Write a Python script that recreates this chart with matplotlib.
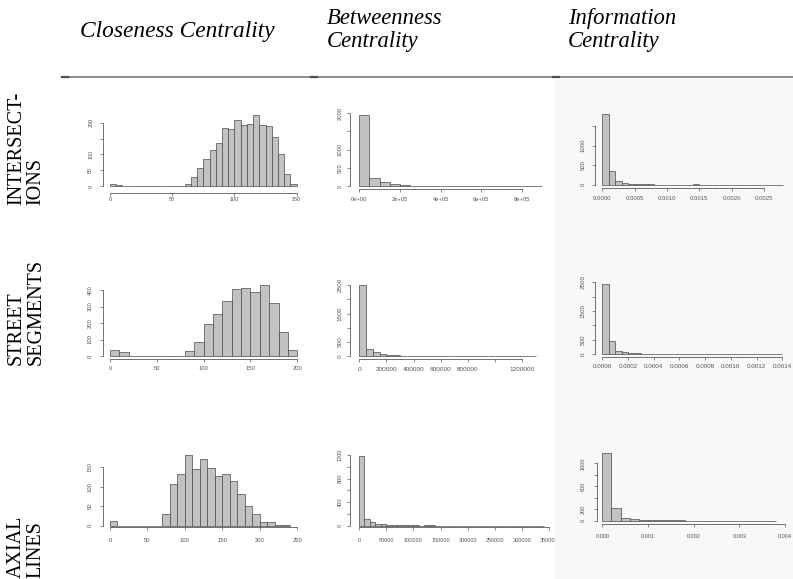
import numpy as np
import matplotlib.pyplot as plt
from matplotlib.patches import Rectangle
from matplotlib.lines import Line2D

W, H = 793, 579

# ---------------- histogram counts ----------------
# closeness centrality
close_int_start, close_int_w = 0, 5
close_int = [7, 3, 0, 0, 0, 0, 0, 0, 0, 0, 0, 0,
             7, 30, 56, 86, 114, 137, 184, 180, 210, 193, 195, 224, 193, 189, 154, 100, 38, 5]
close_seg_start, close_seg_w = 0, 10
close_seg = [34, 22, 0, 0, 0, 0, 0, 0, 28, 85, 192, 255, 331, 404, 410, 386, 430, 323, 143, 38]
close_ax_start, close_ax_w = 0, 10
close_ax = [11, 0, 0, 0, 0, 0, 0, 29, 106, 133, 182, 145, 172, 147, 128, 133, 115, 81, 51, 29, 9, 9, 3, 1]

# betweenness centrality
betw_int_start, betw_int_w = 0, 50000
betw_int = [1950, 210, 110, 60, 25, 8, 5, 4, 3, 3, 3, 2, 2, 1, 1, 2, 3, 1]
betw_seg_start, betw_seg_w = 0, 50000
betw_seg = [2500, 260, 140, 70, 30, 20, 15, 10, 8, 6, 5, 4, 3, 3, 2, 2, 1, 1, 2, 1, 1, 2, 1, 1, 1, 2]
betw_ax_start, betw_ax_w = 0, 10000
betw_ax = [1190, 120, 60, 32, 28, 12, 8, 6, 8, 5, 4, 3, 8, 4, 3, 3, 2, 2, 1, 1, 2, 1, 2, 1,
           1, 1, 1, 0, 0, 0, 0, 0, 1, 2]

# information centrality
info_int_start, info_int_w = 0, 0.0001
info_int = [1810, 340, 100, 35, 20, 10, 8, 6, 5, 5, 4, 2, 1, 2, 6, 1, 1, 0, 1, 0, 0, 1, 0, 0, 0, 0, 0, 1]
info_seg_start, info_seg_w = 0, 0.00005
info_seg = [2440, 450, 125, 70, 40, 30, 20, 15, 12, 10, 8, 10, 6, 4, 3, 2, 1, 6, 2, 3, 1, 1, 1, 1, 0, 0, 1, 1]
info_ax_start, info_ax_w = 0, 0.0002
info_ax = [1180, 216, 42, 30, 20, 8, 6, 5, 4, 3, 3, 2, 2, 2, 1, 1, 1, 1, 3]

# ---------------- axis ticks ----------------
close_int_xt = [0, 50, 100, 150]
close_int_yt, close_int_yl = [0, 50, 100, 150, 200], ['0', '50', '100', '', '200']
close_seg_xt = [0, 50, 100, 150, 200]
close_seg_yt, close_seg_yl = [0, 100, 200, 300, 400], ['0', '100', '200', '300', '400']
close_ax_xt = [0, 50, 100, 150, 200, 250]
close_ax_yt, close_ax_yl = [0, 50, 100, 150], ['0', '50', '100', '150']

betw_int_xt = [0, 200000, 400000, 600000, 800000]
betw_int_xl = ['0e+00', '2e+05', '4e+05', '6e+05', '8e+05']
betw_int_yt, betw_int_yl = [0, 500, 1000, 1500, 2000], ['0', '500', '1000', '', '2000']
betw_seg_xt = [0, 200000, 400000, 600000, 800000, 1000000, 1200000]
betw_seg_xl = ['0', '200000', '400000', '600000', '800000', '', '1200000']
betw_seg_yt = [0, 500, 1000, 1500, 2000, 2500]
betw_seg_yl = ['0', '500', '', '1500', '', '2500']
betw_ax_xt = [0, 50000, 100000, 150000, 200000, 250000, 300000, 350000]
betw_ax_xl = ['0', '50000', '100000', '150000', '200000', '250000', '300000', '350000']
betw_ax_yt = [0, 200, 400, 600, 800, 1000, 1200]
betw_ax_yl = ['0', '', '400', '', '800', '', '1200']

info_int_xt = [0, 0.0005, 0.0010, 0.0015, 0.0020, 0.0025]
info_int_xl = ['0.0000', '0.0005', '0.0010', '0.0015', '0.0020', '0.0025']
info_int_yt, info_int_yl = [0, 500, 1000, 1500], ['0', '500', '1000', '']
info_seg_xt = [0, 0.0002, 0.0004, 0.0006, 0.0008, 0.0010, 0.0012, 0.0014]
info_seg_xl = ['0.0000', '0.0002', '0.0004', '0.0006', '0.0008', '0.0010', '0.0012', '0.0014']
info_seg_yt = [0, 500, 1000, 1500, 2000, 2500]
info_seg_yl = ['0', '500', '', '1500', '', '2500']
info_ax_xt = [0, 0.001, 0.002, 0.003, 0.004]
info_ax_xl = ['0.000', '0.001', '0.002', '0.003', '0.004']
info_ax_yt = [0, 200, 400, 600, 800, 1000]
info_ax_yl = ['0', '200', '', '600', '', '1000']

col_titles = ['Closeness Centrality', 'Betweenness\nCentrality', 'Information\nCentrality']
row_titles = ['INTERSECT-\nIONS', 'STREET\nSEGMENTS', 'AXIAL\nLINES']

fig = plt.figure(figsize=(W / 100, H / 100), dpi=100)


def lin(v0, p0, v1, p1, p):
    return v0 + (p - p0) * (v1 - v0) / (p1 - p0)


def hist_panel(box, xref, yref, start, width, counts, xt, xl, yt, yl, fs,
               xpad=3.0, ypad=5.0, z=0):
    left, right, bottom, top = box
    ax = fig.add_axes([left / W, 1 - bottom / H, (right - left) / W, (bottom - top) / H], zorder=z)
    ax.set_facecolor('none')
    ax.set_xlim(lin(*xref, left), lin(*xref, right))
    ax.set_ylim(lin(*yref, bottom), lin(*yref, top))
    edges = start + width * np.arange(len(counts))
    ax.bar(edges, counts, width=width, align='edge', color='#c2c2c2',
           edgecolor='#4a4a4a', linewidth=0.5)
    for s in ['top', 'right']:
        ax.spines[s].set_visible(False)
    for s in ['left', 'bottom']:
        ax.spines[s].set_color('#5a5a5a')
        ax.spines[s].set_linewidth(0.6)
    ax.spines['bottom'].set_bounds(xt[0], xt[-1])
    ax.spines['left'].set_bounds(yt[0], yt[-1])
    ax.set_xticks(xt)
    ax.set_xticklabels(xl if xl is not None else [str(v) for v in xt])
    ax.set_yticks(yt)
    ax.set_yticklabels(yl, rotation=90, va='center')
    ax.tick_params(axis='both', length=2.0, width=0.5, color='#5a5a5a',
                   labelsize=fs, labelcolor='#555555')
    ax.tick_params(axis='x', pad=xpad)
    ax.tick_params(axis='y', pad=ypad)
    for lab in ax.get_xticklabels() + ax.get_yticklabels():
        lab.set_family(['Liberation Sans', 'DejaVu Sans'])
    return ax


# light backdrop of the third column, drawn over spill-over from the middle column
fig.patches.append(Rectangle((555 / W, 0), 1 - 555 / W, 1 - 79 / H, transform=fig.transFigure,
                             facecolor='#f8f8f8', edgecolor='none', zorder=1))

hist_panel((103, 300, 192.7, 112), (0, 110, 150, 296.7), (0, 186, 200, 122.7),
           close_int_start, close_int_w, close_int, close_int_xt, None, close_int_yt, close_int_yl,
           4.0, xpad=1.4, ypad=5.0)
hist_panel((350, 545, 189, 105), (0, 359.3, 8e5, 522), (0, 186, 2000, 113.3),
           betw_int_start, betw_int_w, betw_int, betw_int_xt, betw_int_xl, betw_int_yt, betw_int_yl,
           4.2, xpad=3.5, ypad=3.2)
hist_panel((595, 785, 187.5, 110), (0, 602.3, 0.0025, 764), (0, 184.7, 1000, 145.7),
           info_int_start, info_int_w, info_int, info_int_xt, info_int_xl, info_int_yt, info_int_yl,
           4.3, xpad=4.2, ypad=4.8, z=2)

hist_panel((102.7, 300, 358.5, 280), (0, 110, 200, 297.3), (0, 356, 400, 290),
           close_seg_start, close_seg_w, close_seg, close_seg_xt, None, close_seg_yt, close_seg_yl,
           4.2, xpad=3.5, ypad=5.0)
hist_panel((350, 546, 358.5, 280), (0, 359.3, 1.2e6, 522.3), (0, 356, 2500, 285.3),
           betw_seg_start, betw_seg_w, betw_seg, betw_seg_xt, betw_seg_xl, betw_seg_yt, betw_seg_yl,
           4.6, xpad=4.0, ypad=3.2)
hist_panel((595, 785, 357, 276), (0, 602.3, 0.0014, 782.3), (0, 354.3, 2500, 282.3),
           info_seg_start, info_seg_w, info_seg, info_seg_xt, info_seg_xl, info_seg_yt, info_seg_yl,
           4.5, xpad=3.0, ypad=5.0, z=2)

hist_panel((102.7, 300, 527, 450), (0, 110, 250, 297.3), (0, 525.7, 150, 467.3),
           close_ax_start, close_ax_w, close_ax, close_ax_xt, None, close_ax_yt, close_ax_yl,
           4.2, xpad=5.8, ypad=5.0)
hist_panel((350, 552, 527, 450), (0, 359, 50000, 386.2), (0, 525.7, 1200, 455),
           betw_ax_start, betw_ax_w, betw_ax, betw_ax_xt, betw_ax_xl, betw_ax_yt, betw_ax_yl,
           4.0, xpad=6.0, ypad=3.2)
hist_panel((596.7, 790, 524, 440), (0, 602.3, 0.004, 785), (0, 520.7, 1000, 463.3),
           info_ax_start, info_ax_w, info_ax, info_ax_xt, info_ax_xl, info_ax_yt, info_ax_yl,
           4.0, xpad=5.2, ypad=6.2, z=2)

# table rule under the column headings
fig.add_artist(Line2D([62 / W, 1], [1 - 77 / H] * 2, color='#6e6e6e', linewidth=1.1, zorder=3))
for xs in [62, 311, 553]:
    fig.add_artist(Line2D([xs / W, (xs + 6) / W], [1 - 76.5 / H] * 2, color='#505050',
                          linewidth=1.6, zorder=3))

serif = ['Liberation Serif', 'DejaVu Serif']
fig.text(80 / W, 1 - 32 / H, col_titles[0], family=serif, style='italic', fontsize=16.8,
         ha='left', va='center')
fig.text(327 / W, 1 - 30 / H, col_titles[1], family=serif, style='italic', fontsize=16.3,
         ha='left', va='center', linespacing=1.1)
fig.text(568 / W, 1 - 30 / H, col_titles[2], family=serif, style='italic', fontsize=16.3,
         ha='left', va='center', linespacing=1.1)

for label, ybot in zip(row_titles, [205, 365, 578]):
    fig.text(7 / W, 1 - ybot / H, label, family=serif, fontsize=14.5, rotation=90,
             ha='left', va='bottom', multialignment='left', linespacing=1.05)

fig.savefig('out.png', dpi=100, facecolor='white')
